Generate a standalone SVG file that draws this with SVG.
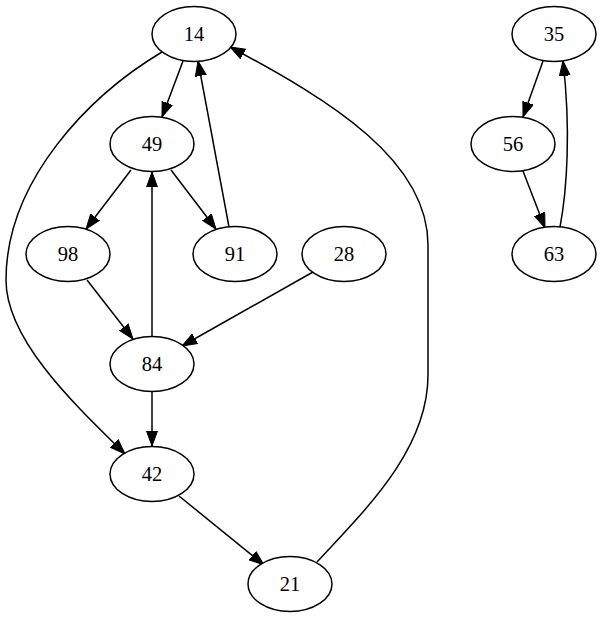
<svg xmlns="http://www.w3.org/2000/svg" width="602" height="618" viewBox="0 0 602 618">
<defs>
<marker id="ah" markerUnits="userSpaceOnUse" markerWidth="16" markerHeight="12" viewBox="0 0 16 12" refX="15" refY="6" orient="auto">
<path d="M0,0.5 L15,6 L0,11.5 Z" fill="#000" stroke="#000" stroke-width="1"/>
</marker>
</defs>
<style>
.n ellipse{fill:#fff;stroke:#000;stroke-width:1.5}
.n text{font-family:"Liberation Serif","Times New Roman",serif;font-size:20.5px;text-anchor:middle;fill:#000}
.e path{fill:none;stroke:#000;stroke-width:1.5;marker-end:url(#ah)}
</style>
<rect width="602" height="618" fill="#fff"/>
<g id="edges" class="e">
<path d="M183,61 L162,117"/>
<path d="M162,52 C90,95 6,180 6,280 C6,340 75,405 125,454"/>
<path d="M131,170 L86,229"/>
<path d="M171,170 L216,229"/>
<path d="M229,227 L198,61"/>
<path d="M152,336 L152,172"/>
<path d="M87,280 L133,339"/>
<path d="M313,272 L182,346"/>
<path d="M152,392 L152,446"/>
<path d="M179,496 L264,565"/>
<path d="M317,562 C365,510 428,450 428,375 L428,245 C428,160 330,100 230,47"/>
<path d="M543,61 L523,117"/>
<path d="M523,171 L545,228"/>
<path d="M560,227 C567,190 571,130 563,61"/>
</g>
<g id="n14" class="n"><ellipse cx="194" cy="34" rx="42" ry="27.5"/><text x="194" y="41">14</text></g>
<g id="n49" class="n"><ellipse cx="152" cy="144" rx="42" ry="27.5"/><text x="152" y="151">49</text></g>
<g id="n98" class="n"><ellipse cx="68" cy="254" rx="42" ry="27.5"/><text x="68" y="261">98</text></g>
<g id="n91" class="n"><ellipse cx="235" cy="254" rx="42" ry="27.5"/><text x="235" y="261">91</text></g>
<g id="n28" class="n"><ellipse cx="344" cy="254" rx="42" ry="27.5"/><text x="344" y="261">28</text></g>
<g id="n84" class="n"><ellipse cx="152" cy="364" rx="42" ry="27.5"/><text x="152" y="371">84</text></g>
<g id="n42" class="n"><ellipse cx="152" cy="474" rx="42" ry="27.5"/><text x="152" y="481">42</text></g>
<g id="n21" class="n"><ellipse cx="290" cy="584" rx="42" ry="27.5"/><text x="290" y="591">21</text></g>
<g id="n35" class="n"><ellipse cx="554" cy="34" rx="42" ry="27.5"/><text x="554" y="41">35</text></g>
<g id="n56" class="n"><ellipse cx="513" cy="144" rx="42" ry="27.5"/><text x="513" y="151">56</text></g>
<g id="n63" class="n"><ellipse cx="554" cy="254" rx="42" ry="27.5"/><text x="554" y="261">63</text></g>
</svg>
